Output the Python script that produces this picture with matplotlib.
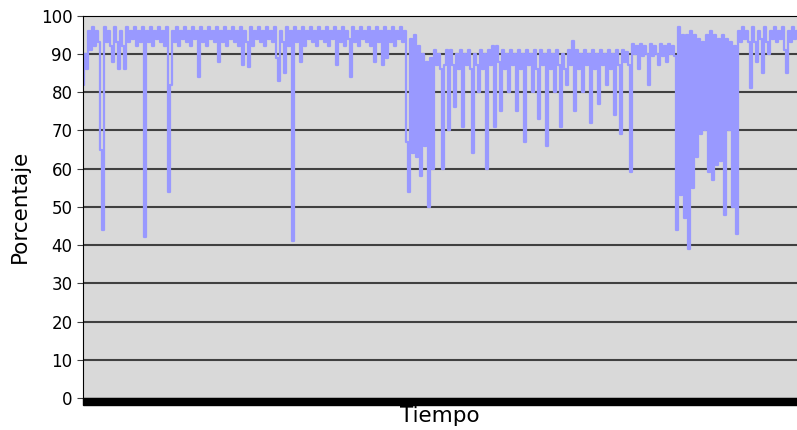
import matplotlib
matplotlib.use("Agg")
import matplotlib.pyplot as plt
from matplotlib.patches import Rectangle

plt.rcParams['path.simplify'] = False

# --- Datos (porcentaje, una muestra cada ~2 px) ---
tramo_a = [82, 90, 86, 96, 91, 97, 92, 96, 93, 65,
           44, 97, 93, 96, 92, 88, 97, 93, 86, 96,
           92, 86, 97, 93, 96, 94, 97, 92, 96, 93,
           97, 42, 96, 93, 97, 92, 96, 94, 97, 93,
           96, 92, 97, 54, 82, 96, 93, 97, 92, 96,
           94, 97, 93, 96, 92, 97, 94, 96, 84, 97,
           93, 96, 92, 97, 94, 96, 93, 97, 88, 96,
           93, 97, 92, 96, 94, 97, 93, 96, 92, 97,
           87, 96, 93, 86.5, 97, 92, 96, 94, 97, 93,
           96, 92, 97, 94, 96, 93, 97, 89, 83, 96,
           93, 85, 97, 92, 96, 41, 97, 93, 96, 88,
           97, 92, 96, 94, 97, 93, 96, 92, 97, 94,
           96, 93, 97, 92, 96, 94, 97, 87, 96, 93,
           97, 92, 96, 94, 84, 97, 93, 96, 92, 97,
           94, 96, 93, 97, 92, 96, 88, 97, 93, 96,
           87, 97, 89, 96, 93, 97, 92, 96, 94, 97,
           93, 96]
tramo_caida = [67, 54, 94, 64, 95, 63, 92, 58, 90, 66, 88, 50]
tramo_b = [89, 60, 91, 87, 90, 86, 60, 87, 91, 70,
           91, 87, 76, 90, 86, 91, 71, 90, 87, 91,
           86, 64, 90, 87, 80, 91, 86, 90, 60, 91,
           87, 92, 71, 92, 88, 75, 91, 86, 90, 80,
           91, 87, 90, 75, 91, 86, 90, 67, 91, 87,
           90, 80, 91, 86, 73, 91, 87, 90, 66, 91,
           86, 90, 80, 91, 87, 71, 90, 86, 82, 91,
           87, 93.5, 75, 91, 86, 90, 80, 91, 87, 90,
           72, 91, 86, 90, 77, 91, 87, 90, 82, 91,
           86, 90, 74, 91]
tramo_c = [87, 69, 91, 88, 90.5, 87, 59, 92.5, 90, 92,
           86, 92.5, 89.5, 92, 90, 82, 92.5, 89.5, 92, 90,
           87, 92.5, 89.5, 92, 88, 92.5, 90, 92, 89.5]
tramo_d = [44, 97, 53, 95, 47, 95, 39, 96, 55, 95,
           63, 94, 69, 93, 70, 95, 59, 96, 57, 95,
           61, 94, 62, 95, 48, 94, 70, 93, 50, 92, 43]
tramo_e = [96, 93, 97, 94, 96, 93, 81, 97, 93, 88,
           96, 94, 85, 97, 93, 90, 96, 94, 97, 93,
           96, 94, 97, 91, 85, 96, 93, 97, 94, 96]

porcentaje = tramo_a + tramo_caida + tramo_b + tramo_c + tramo_d + tramo_e
tiempo = list(range(len(porcentaje)))
y_ticks = list(range(0, 101, 10))

# --- Figura ---
fig = plt.figure(figsize=(7.97, 4.30), dpi=100)
ax = fig.add_axes([0.104, 0.0744, 0.896, 0.889])
ax.set_facecolor('#d9d9d9')

for y in y_ticks[1:-1]:
    ax.axhline(y, color='#404040', linewidth=1.5, zorder=1)

ax.plot(tiempo, porcentaje, color='#9999ff', linewidth=1.6,
        drawstyle='steps-mid', zorder=2)

ax.set_xlim(0, len(porcentaje) - 1)
ax.set_ylim(0, 100)
ax.set_yticks(y_ticks)
ax.tick_params(axis='y', labelsize=12, length=4, color='#404040')

# las marcas del eje x estan tan juntas que forman una barra negra
ax.set_xticks([])
ax.add_patch(Rectangle((0, -0.019), 1, 0.019, transform=ax.transAxes,
                       color='black', clip_on=False, zorder=3))

ax.spines['right'].set_visible(False)
for s in ['left', 'top', 'bottom']:
    ax.spines[s].set_color('black')

ax.set_ylabel('Porcentaje', fontsize=15.5, labelpad=8)
ax.set_xlabel('Tiempo', fontsize=15.5)
ax.xaxis.set_label_coords(0.5, -0.02)

plt.savefig('out.png', dpi=100)
